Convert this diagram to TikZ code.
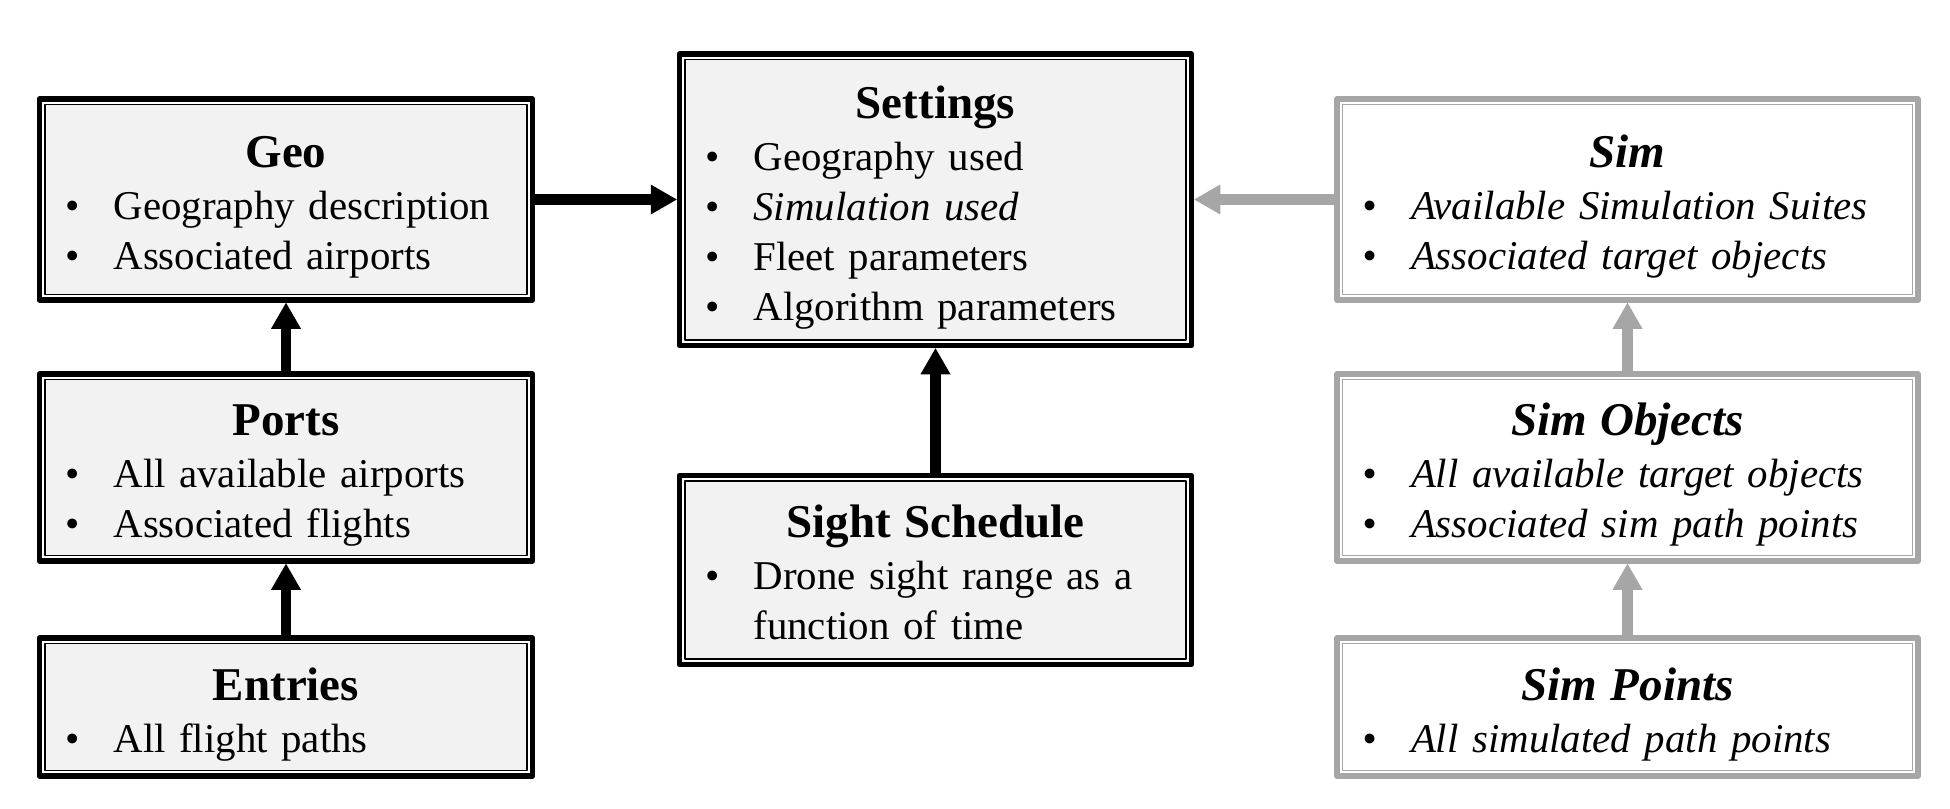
\documentclass[tikz,border=0pt]{standalone}
\usepackage{fontspec}
\setmainfont{Liberation Serif}
\usetikzlibrary{arrows.meta}
\definecolor{boxfill}{HTML}{F2F2F2}
\definecolor{simgray}{HTML}{A6A6A6}
\newcommand{\bodyfont}{\fontsize{16.35pt}{20pt}\selectfont}
\newcommand{\ttlfont}{\fontsize{18.8pt}{20pt}\selectfont\bfseries}
\newcommand{\btitle}[2][19pt]{\parindent=0pt\makebox[\hsize][c]{\rule{0pt}{#1}\ttlfont #2}\par\vspace{0.8pt}}
\newcommand{\bitem}[1]{\par\hspace*{13.2pt}\makebox[0pt][c]{\textbullet}\hspace*{16.4pt}#1}
\newcommand{\bcont}[1]{\par\hspace*{29.6pt}#1}
\tikzset{
  dbox/.style 2 args={line width=2.2pt, line join=round, fill=white, inner sep=0pt,
    align=left, draw=#1,
    path picture={\draw[line width=0.72pt, draw=#1, fill=#2]
      ([shift={(2.2pt,-2.2pt)}]path picture bounding box.north west) rectangle
      ([shift={(-2.2pt,2.2pt)}]path picture bounding box.south east);}},
  blackbox/.style={dbox={black}{boxfill}, font=\bodyfont},
  greybox/.style={dbox={simgray}{white}, font=\bodyfont\itshape},
  conn/.style={line width=4.2pt, -{Triangle[length=10.4pt,width=12pt,line width=0pt]}},
  barrow/.style={conn, draw=black, fill=black},
  garrow/.style={conn, draw=simgray, fill=simgray}
}
\begin{document}
\begin{tikzpicture}[x=0.4pt, y=-0.4pt]
\fill[white] (0,0) rectangle (1950,808);
\useasboundingbox (0,0) rectangle (1950,808);

\node[blackbox, text width=197.2pt, minimum height=80.4pt] (geo) at (286,199.5)
  {\btitle{Geo}\bitem{Geography description}\bitem{Associated airports}};
\node[blackbox, text width=197.2pt, minimum height=74.8pt] (ports) at (286,467.5)
  {\btitle{Ports}\bitem{All available airports}\bitem{Associated flights}};
\node[blackbox, text width=197.2pt, minimum height=55.2pt] (entries) at (286,707)
  {\btitle{Entries}\bitem{All flight paths}};

\node[blackbox, text width=204.8pt, minimum height=116.6pt] (settings) at (935.5,199.75)
  {\btitle{Settings}\bitem{Geography used}\bitem{\textit{Simulation used}}\bitem{Fleet parameters}\bitem{Algorithm parameters}};
\node[blackbox, text width=204.8pt, minimum height=75.6pt] (sight) at (935.5,570)
  {\btitle[15.2pt]{Sight Schedule}\bitem{Drone sight range as a}\bcont{function of time}};

\node[greybox, text width=232.4pt, minimum height=80.4pt] (sim) at (1627.5,199.5)
  {\btitle{Sim}\bitem{Available Simulation Suites}\bitem{Associated target objects}};
\node[greybox, text width=232.4pt, minimum height=74.8pt] (simobj) at (1627.5,467.5)
  {\btitle{Sim Objects}\bitem{All available target objects}\bitem{Associated sim path points}};
\node[greybox, text width=232.4pt, minimum height=55.2pt] (simpts) at (1627.5,707)
  {\btitle{Sim Points}\bitem{All simulated path points}};

\draw[barrow] (geo.east) -- (geo.east -| settings.west);
\draw[garrow] (sim.west) -- (sim.west -| settings.east);
\draw[barrow] (ports.north) -- (geo.south);
\draw[barrow] (entries.north) -- (ports.south);
\draw[barrow] (sight.north) -- (settings.south);
\draw[garrow] (simobj.north) -- (sim.south);
\draw[garrow] (simpts.north) -- (simobj.south);
\end{tikzpicture}
\end{document}
